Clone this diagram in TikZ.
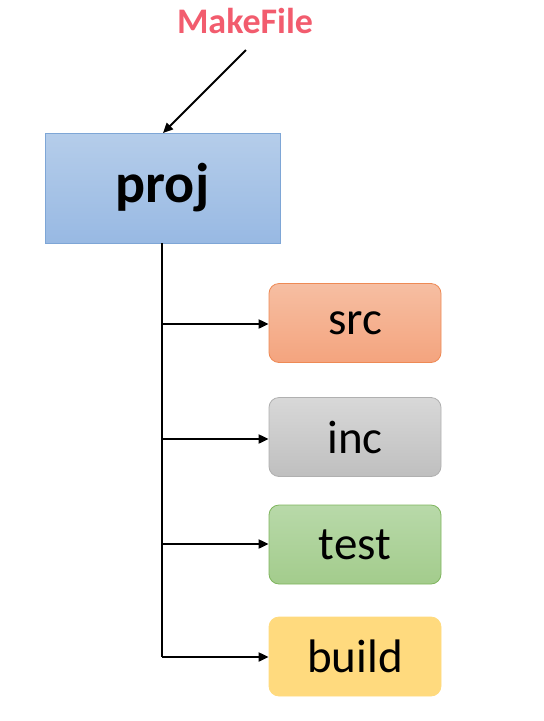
\documentclass[tikz,border=0pt]{standalone}
\usepackage{fontspec}
\setmainfont{Carlito}
\usetikzlibrary{arrows.meta}
\definecolor{mkred}{HTML}{F25C6E}
\definecolor{projtop}{HTML}{B5CDEA}
\definecolor{projbot}{HTML}{98B9E3}
\definecolor{projline}{HTML}{7EA6D6}
\definecolor{srctop}{HTML}{F6BEA2}
\definecolor{srcbot}{HTML}{F4A47E}
\definecolor{srcline}{HTML}{EE8A55}
\definecolor{inctop}{HTML}{D8D8D8}
\definecolor{incbot}{HTML}{BFBFBF}
\definecolor{incline}{HTML}{B0B0B0}
\definecolor{testtop}{HTML}{B8D9A9}
\definecolor{testbot}{HTML}{A3CC8C}
\definecolor{testline}{HTML}{7FB55E}
\definecolor{buildfill}{HTML}{FFDA7E}
\tikzset{
  x=1pt,y=-1pt,
  conn/.style={line width=2pt,-{Triangle[length=10pt,width=9pt]}},
  trunk/.style={line width=2pt},
  leaf/.style={rounded corners=10pt,minimum width=172pt,minimum height=79pt,font=\fontsize{47}{52}\selectfont,inner sep=0pt,line width=0.8pt},
}
\begin{document}
\begin{tikzpicture}
\useasboundingbox (0,0) rectangle (544,721);
\node[font=\fontsize{36}{40}\selectfont\bfseries,text=mkred] (mk) at (245,21) {MakeFile};
\node[draw=projline,top color=projtop,bottom color=projbot,minimum width=235pt,minimum height=110pt,inner sep=0pt,line width=0.8pt,font=\fontsize{56}{60}\selectfont\bfseries] (proj) at (162.5,188) {proj};
\coordinate (mkend) at (246,50);
\coordinate (projin) at (163,133);
\draw[conn] (mkend) -- (projin);
\node[leaf,draw=srcline,top color=srctop,bottom color=srcbot] (src) at (355,323) {src};
\node[leaf,draw=incline,top color=inctop,bottom color=incbot] (inc) at (355,437) {inc};
\node[leaf,draw=testline,top color=testtop,bottom color=testbot] (test) at (355,544.5) {test};
\node[leaf,draw=buildfill,fill=buildfill] (build) at (355,656.5) {build};
\coordinate (j1) at (162,324);
\coordinate (j2) at (162,439);
\coordinate (j3) at (162,544);
\coordinate (j4) at (162,657);
\draw[trunk] (proj.south -| j1) -- (j4);
\draw[conn] (j1) -- (src.west |- j1);
\draw[conn] (j2) -- (inc.west |- j2);
\draw[conn] (j3) -- (test.west |- j3);
\draw[conn] (j4) -- (build.west |- j4);
\end{tikzpicture}
\end{document}
